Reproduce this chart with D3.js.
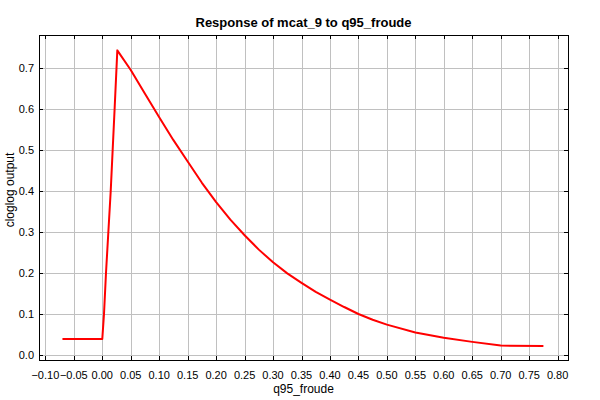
<!DOCTYPE html>
<html lang="en">
<head>
    <meta charset="utf-8">
    <title>Response of mcat_9 to q95_froude</title>
    <style type="text/css">
        body { margin: 0; background: #fff; }
        .chart text { font-family: "Liberation Sans", Arial, sans-serif; fill: #000; }
        .chart .grid line { stroke: #c0c0c0; stroke-width: 1; shape-rendering: crispEdges; }
        .chart .tick-mark { stroke: #000; stroke-width: 1; shape-rendering: crispEdges; }
        .chart .frame { fill: none; stroke: #000; stroke-width: 1; shape-rendering: crispEdges; }
        .chart .curve { fill: none; stroke: #ff0000; stroke-width: 2; stroke-linejoin: round; }
    </style>
</head>
<body>
<svg class="chart" width="600" height="400"></svg>

<script src="https://d3js.org/d3.v7.min.js"></script>
<script>
    // 数据: q95_froude 与 cloglog 输出
    var froude = [-0.070, 0.000, 0.003, 0.0065, 0.0148, 0.0218, 0.0264, 0.050, 0.075, 0.100, 0.125,
                  0.150, 0.175, 0.200, 0.225, 0.250, 0.275, 0.300, 0.325, 0.350, 0.375, 0.400,
                  0.425, 0.450, 0.475, 0.500, 0.550, 0.600, 0.650, 0.700, 0.775];
    var output = [0.039, 0.039, 0.100, 0.200, 0.400, 0.605, 0.743, 0.695, 0.637, 0.580, 0.524,
                  0.472, 0.420, 0.373, 0.330, 0.292, 0.257, 0.226, 0.199, 0.176, 0.154, 0.135,
                  0.117, 0.100, 0.086, 0.074, 0.055, 0.042, 0.032, 0.023, 0.022];

    var xTicks = d3.range(-0.10, 0.8001, 0.05),
        yTicks = d3.range(0, 0.7001, 0.1);

    var xDomain = [-0.1112, 0.8182],
        yDomain = [-0.011, 0.7805];

    var svg = d3.select('.chart'),
        width = +svg.attr('width'),
        height = +svg.attr('height'),
        box = {left: 39, right: 568, top: 35, bottom: 359.5},
        tickLen = 4;

    svg.append('rect').attr('width', width).attr('height', height).attr('fill', '#fff');

    var x = d3.scaleLinear().domain(xDomain).range([box.left, box.right]),
        y = d3.scaleLinear().domain(yDomain).range([box.bottom, box.top]);

    // 网格线
    var grid = svg.append('g').attr('class', 'grid');
    grid.selectAll('.gx').data(xTicks).enter().append('line')
        .attr('x1', function(d) { return Math.round(x(d)) + 0.5; })
        .attr('x2', function(d) { return Math.round(x(d)) + 0.5; })
        .attr('y1', box.top).attr('y2', box.bottom);
    grid.selectAll('.gy').data(yTicks).enter().append('line')
        .attr('y1', function(d) { return Math.round(y(d)) + 0.5; })
        .attr('y2', function(d) { return Math.round(y(d)) + 0.5; })
        .attr('x1', box.left).attr('x2', box.right);

    // 曲线
    var line = d3.line()
        .x(function(d, i) { return x(froude[i]); })
        .y(function(d) { return y(d); });

    svg.append('path')
        .datum(output)
        .attr('class', 'curve')
        .attr('d', line);

    // 边框和刻度（向内）
    var ticks = svg.append('g');
    xTicks.forEach(function(d) {
        var px = Math.round(x(d)) + 0.5;
        ticks.append('line').attr('class', 'tick-mark')
            .attr('x1', px).attr('x2', px).attr('y1', box.bottom).attr('y2', box.bottom - tickLen);
        ticks.append('line').attr('class', 'tick-mark')
            .attr('x1', px).attr('x2', px).attr('y1', box.top).attr('y2', box.top + tickLen);
    });
    yTicks.forEach(function(d) {
        var py = Math.round(y(d)) + 0.5;
        ticks.append('line').attr('class', 'tick-mark')
            .attr('x1', box.left).attr('x2', box.left + tickLen).attr('y1', py).attr('y2', py);
        ticks.append('line').attr('class', 'tick-mark')
            .attr('x1', box.right).attr('x2', box.right - tickLen).attr('y1', py).attr('y2', py);
    });

    svg.append('rect').attr('class', 'frame')
        .attr('x', box.left + 0.5).attr('y', box.top + 0.5)
        .attr('width', box.right - box.left).attr('height', box.bottom - box.top);

    // 刻度标签
    svg.append('g').selectAll('text').data(xTicks).enter().append('text')
        .attr('x', function(d) { return x(d); })
        .attr('y', 378.5)
        .attr('text-anchor', 'middle')
        .style('font-size', '11px')
        .text(function(d) { return d3.format('.2f')(d); });

    svg.append('g').selectAll('text').data(yTicks).enter().append('text')
        .attr('x', 34)
        .attr('y', function(d) { return y(d) + 4; })
        .attr('text-anchor', 'end')
        .style('font-size', '11px')
        .text(function(d) { return d3.format('.1f')(d); });

    // 标题和坐标轴名称
    svg.append('text')
        .attr('x', (box.left + box.right) / 2).attr('y', 27)
        .attr('text-anchor', 'middle')
        .style('font-size', '13px').style('font-weight', 'bold')
        .text('Response of mcat_9 to q95_froude');

    svg.append('text')
        .attr('x', (box.left + box.right) / 2).attr('y', 393)
        .attr('text-anchor', 'middle')
        .style('font-size', '12px')
        .text('q95_froude');

    svg.append('text')
        .attr('transform', 'translate(14,190) rotate(-90)')
        .attr('text-anchor', 'middle')
        .style('font-size', '12px')
        .text('cloglog output');
</script>
</body>
</html>
